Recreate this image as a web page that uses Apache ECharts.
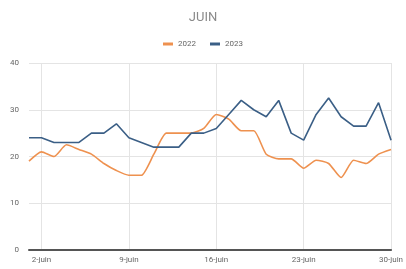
<!DOCTYPE html>
<html lang="fr">
<head>
    <meta charset="UTF-8">
    <title>Juin</title>
    <style>
        html, body { margin: 0; padding: 0; background: #fff; }
        #main { width: 406px; height: 269px; }
    </style>
</head>
<body>
<div id="main"></div>
<script src="https://cdn.jsdelivr.net/npm/echarts@6/dist/echarts.min.js"></script>
<script>
    var days = [];
    for (var d = 1; d <= 30; d++) { days.push(d + '-juin'); }

    var v2022 = [19, 21, 20, 22.5, 21.5, 20.5, 18.5, 17, 16, 16, 20.5, 25, 25, 25, 26, 29, 28, 25.5, 25.5, 20.5,
                 19.5, 19.5, 17.5, 19.2, 18.5, 15.5, 19.2, 18.5, 20.5, 21.5];
    var v2023 = [24, 24, 23, 23, 23, 25, 25, 27, 24, 23, 22, 22, 22, 25, 25, 26, 29, 32, 30, 28.5,
                 32, 25, 23.5, 29, 32.5, 28.5, 26.5, 26.5, 31.5, 23.5];
    var yTicks = [0, 10, 20, 30, 40];

    var chart = echarts.init(document.getElementById('main'));
    var showEvery7 = function (i) { return i % 7 === 1; };

    chart.setOption({
        animation: false,
        title: {
            text: 'JUIN',
            left: 'center',
            top: 6,
            textStyle: { color: '#8a8a8a', fontSize: 13, fontWeight: 'normal', fontFamily: 'Roboto' }
        },
        legend: {
            top: 35,
            left: 'center',
            itemWidth: 10,
            itemHeight: 3,
            itemGap: 14,
            icon: 'rect',
            textStyle: { color: '#666', fontSize: 8, fontFamily: 'Roboto' },
            data: ['2022', '2023']
        },
        grid: { left: 29, right: 13, top: 63, bottom: 19 },
        xAxis: {
            type: 'category',
            boundaryGap: false,
            data: days,
            axisTick: { show: false },
            axisLine: { lineStyle: { color: '#555', width: 2 } },
            axisLabel: { interval: showEvery7, color: '#666', fontSize: 8, margin: 6, fontFamily: 'Roboto' },
            splitLine: { show: true, interval: showEvery7, lineStyle: { color: '#e4e4e4' } }
        },
        yAxis: {
            type: 'value',
            min: yTicks[0],
            max: yTicks[yTicks.length - 1],
            interval: 10,
            axisLabel: { color: '#666', fontSize: 8, margin: 10, fontFamily: 'Roboto' },
            splitLine: { lineStyle: { color: '#e4e4e4' } }
        },
        series: [
            {
                name: '2022',
                type: 'line',
                data: v2022,
                smooth: 0.2,
                showSymbol: false,
                itemStyle: { color: '#ee914f' },
                lineStyle: { color: '#ee914f', width: 1.6 }
            },
            {
                name: '2023',
                type: 'line',
                data: v2023,
                showSymbol: false,
                itemStyle: { color: '#3b5f86' },
                lineStyle: { color: '#3b5f86', width: 1.6 }
            }
        ]
    });
</script>
</body>
</html>
